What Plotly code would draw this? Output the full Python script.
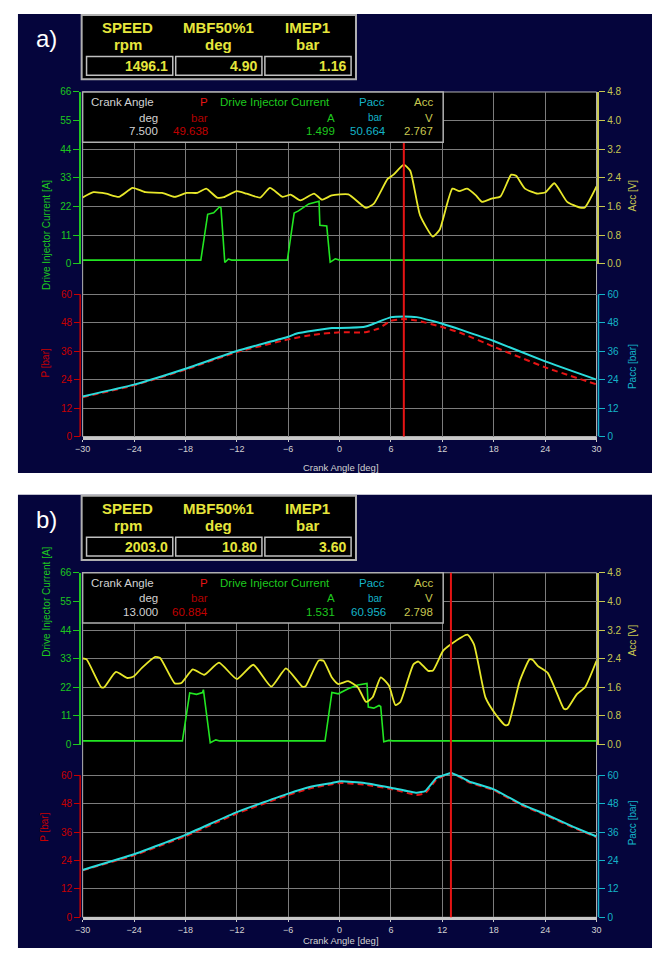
import plotly.graph_objects as go

# page is 660x956; the browser body keeps its default 8px margin
PAGE_W, PAGE_H = 660, 956
BODY_MARGIN = 8
W, H = PAGE_W - 2 * BODY_MARGIN, PAGE_H - 2 * BODY_MARGIN
OFFSET_B = 487

# ---------------- data: panel a ----------------
a_acc_deg = [-30.0, -28.74, -27.25, -25.76, -24.16, -22.67, -20.72, -19.24, -17.86, -16.6, -15.57,
             -14.31, -13.51, -12.02, -10.87, -9.27, -8.13, -6.64, -5.72, -4.58, -2.98, -2.06, -0.92,
             1.03, 3.09, 4.01, 5.61, 6.30, 7.5, 8.25, 9.39, 10.88, 11.68, 13.17, 13.97, 14.89, 15.92,
             16.61, 17.75, 18.78, 20.04, 20.61, 21.64, 23.13, 24.05, 25.08, 26.57, 28.06, 28.63, 30.0]
a_acc_v = [1.85, 2.0, 1.96, 1.87, 2.12, 2.0, 1.98, 1.87, 1.98, 1.98, 2.1,
           1.85, 1.86, 2.03, 1.96, 1.85, 2.12, 1.87, 1.93, 1.77, 1.96, 1.79, 1.91,
           1.94, 1.56, 1.68, 2.37, 2.49, 2.77, 2.6, 1.36, 0.76, 0.95, 2.1, 2.03, 2.1, 1.91,
           1.73, 1.82, 1.88, 2.49, 2.46, 2.1, 1.96, 2.0, 2.25, 1.73, 1.57, 1.57, 2.16]
a_cur_deg = [-30.0, -16.2, -15.4, -14.7, -14.0, -13.85, -13.4, -13.0, -12.6, -6.1, -5.3, -4.8,
             -3.6, -2.4, -2.3, -1.5, -1.1, -0.8, -0.5, 0.0, 30.0]
a_cur_a = [1.4, 1.4, 19.0, 19.6, 21.9, 21.5, 0.5, 1.8, 1.4, 1.4, 19.5, 20.3,
           23.0, 24.0, 14.8, 14.5, 0.6, 1.4, 1.9, 1.4, 1.4]
a_pacc_deg = [-30, -24, -18, -12, -6, -5, -0.9, 0, 2.9, 4.0, 6.0, 7.5, 9.0, 12.0, 14.3, 18.0, 24.0, 30.0]
a_pacc_bar = [16.9, 21.9, 28.6, 36.1, 42.1, 43.5, 45.8, 45.8, 46.3, 47.6, 50.4, 50.7, 50.4, 47.6,
              44.9, 40.3, 31.7, 24.0]
a_p_deg = [-30, -24, -18, -12, -6, -3, 0, 3, 4.5, 6, 7.5, 9, 12, 14.3, 18, 24, 30]
a_p_bar = [16.6, 21.6, 28.2, 35.6, 41.0, 43.0, 44.0, 44.0, 45.5, 48.8, 49.6, 49.0, 46.2, 43.5,
           37.9, 29.2, 22.0]
a_cursor = 7.5
a_info_values = ["1496.1", "4.90", "1.16"]
a_legend_values = ["7.500", "49.638", "1.499", "50.664", "2.767"]

# ---------------- data: panel b ----------------
b_acc_deg = [-30.0, -29.54, -27.82, -27.48, -26.11, -24.77, -24.05, -23.05, -21.53, -20.95, -19.24,
             -18.47, -17.14, -15.8, -14.08, -11.99, -10.08, -7.98, -6.26, -4.35, -3.97, -2.44, -1.87,
             -0.92, -0.15, 1.0, 2.14, 3.09, 3.86, 4.81, 5.76, 6.53, 7.10, 8.62, 9.2, 10.34, 10.91,
             12.06, 13.0, 14.92, 15.69, 17.03, 18.17, 19.32, 19.70, 21.04, 22.18, 22.56, 23.13,
             24.28, 25.42, 26.19, 26.57, 27.71, 28.66, 30.0]
b_acc_v = [2.41, 2.38, 1.6, 1.6, 2.03, 1.86, 1.9, 2.15, 2.45, 2.42, 1.71,
           1.72, 2.1, 1.95, 2.29, 1.83, 2.23, 1.62, 2.13, 1.62, 1.63, 2.35, 2.34,
           1.88, 1.69, 1.77, 1.6, 1.19, 1.32, 1.88, 1.65, 1.1, 1.19, 2.24, 2.32, 2.06, 2.07,
           2.61, 2.8, 3.07, 2.8, 1.32, 0.86, 0.54, 0.56, 1.78, 2.38, 2.36, 2.2,
           2.01, 1.41, 1.0, 1.0, 1.41, 1.6, 2.34]
b_cur_deg = [-30.0, -18.35, -17.5, -16.7, -16.0, -15.9, -15.1, -14.45, -14.0, -1.7, -0.9, -0.15,
             1.0, 2.13, 3.2, 3.35, 4.0, 4.6, 4.8, 5.16, 5.75, 6.2, 30.0]
b_cur_a = [1.4, 1.4, 19.8, 19.3, 20.0, 21.1, 0.7, 1.8, 1.4, 1.4, 20.0, 19.5,
           21.4, 22.9, 23.5, 14.4, 14.0, 15.0, 14.6, 1.1, 1.6, 1.4, 1.4]
b_pacc_deg = [-30, -24, -18, -12, -6, -3.5, -0.9, 0.2, 2.9, 6, 9, 10, 11.3, 12.25, 13, 14, 15.1, 18,
              21.2, 24.1, 27.3, 30]
b_pacc_bar = [20.0, 26.6, 34.8, 44.4, 52.2, 55.0, 56.7, 57.4, 56.7, 54.7, 52.6, 53.3, 58.8, 60.1,
              60.96, 59.5, 57.4, 54.0, 47.8, 43.4, 38.2, 34.1]
b_p_deg = [-30, -24, -18, -12, -6, -3.5, -0.9, 0.2, 2.9, 6, 9, 10, 11.3, 12.25, 13, 14, 15.1, 18,
           21.2, 24.1, 27.3, 30]
b_p_bar = [19.8, 26.2, 34.2, 43.8, 51.6, 54.4, 56.2, 56.7, 56.0, 54.2, 51.6, 52.4, 58.0, 59.8,
           60.88, 59.2, 57.0, 53.6, 47.4, 43.0, 37.8, 33.8]
b_cursor = 13.0
b_info_values = ["2003.0", "10.80", "3.60"]
b_legend_values = ["13.000", "60.884", "1.531", "60.956", "2.798"]

# ---------------- ticks / labels ----------------
x_ticks = [-30, -24, -18, -12, -6, 0, 6, 12, 18, 24, 30]
cur_ticks = [0, 11, 22, 33, 44, 55, 66]
acc_ticks = [0.0, 0.8, 1.6, 2.4, 3.2, 4.0, 4.8]
p_ticks = [0, 12, 24, 36, 48, 60]
info_titles = ["SPEED", "MBF50%1", "IMEP1"]
info_units = ["rpm", "deg", "bar"]
legend_names = ["Crank Angle", "P", "Drive Injector Current", "Pacc", "Acc"]
legend_units = ["deg", "bar", "A", "bar", "V"]
panel_labels = ["a)", "b)"]

# ---------------- styling ----------------
FONT = "Liberation Sans, Arial, sans-serif"
NAVY = "#05053c"
GRID = "#7c7c7c"
FRAME = "#b4b4b4"
GREEN_LINE = "#22e622"
GREEN_TXT = "#1ec81e"
YEL_LINE = "#e8e82a"
YEL_TXT = "#c8c850"
CYAN_LINE = "#2adcdc"
CYAN_TXT = "#14b4c8"
RED_LINE = "#e61414"
RED_TXT = "#c80000"
GRAY_TXT = "#d2d2d2"
INFO_YEL = "#e6e63c"


def px(x):
    """page pixel x -> paper fraction"""
    return (x - BODY_MARGIN) / W


def py(y):
    """page pixel y -> paper fraction"""
    return 1 - (y - BODY_MARGIN) / H


# plot geometry (page pixels, panel a)
PL, PR = 76, 600.5
TOP, MID, BOT = 87, 261, 436
P60 = 292
P_TOP = 60 * (BOT - MID) / (BOT - P60)

fig = go.Figure()
shapes = []
annotations = []
layout = {}

panels = [
    dict(off=0, x="x", ys=["y", "y2", "y3", "y4"],
         acc=(a_acc_deg, a_acc_v), cur=(a_cur_deg, a_cur_a), pacc=(a_pacc_deg, a_pacc_bar),
         p=(a_p_deg, a_p_bar), cursor=a_cursor, info=a_info_values, leg=a_legend_values,
         label=panel_labels[0]),
    dict(off=OFFSET_B, x="x2", ys=["y5", "y6", "y7", "y8"],
         acc=(b_acc_deg, b_acc_v), cur=(b_cur_deg, b_cur_a), pacc=(b_pacc_deg, b_pacc_bar),
         p=(b_p_deg, b_p_bar), cursor=b_cursor, info=b_info_values, leg=b_legend_values,
         label=panel_labels[1]),
]


def key(ref):
    return ref[0] + "axis" + ref[1:]


for pn in panels:
    o = pn["off"]
    xr = pn["x"]
    ycur, yacc, yp, ypacc = pn["ys"]

    # background panels
    shapes.append(dict(type="rect", xref="paper", yref="paper", x0=px(10), x1=px(660),
                       y0=py(473 + o if o == 0 else 960), y1=py(8 + o), fillcolor=NAVY,
                       line=dict(width=0), layer="below"))
    shapes.append(dict(type="rect", xref="paper", yref="paper", x0=px(PL), x1=px(PR),
                       y0=py(BOT + o), y1=py(TOP + o), fillcolor="black",
                       line=dict(color=FRAME, width=1), layer="below"))

    # info box
    shapes.append(dict(type="rect", xref="paper", yref="paper", x0=px(75), x1=px(355),
                       y0=py(74 + o), y1=py(9 + o), fillcolor="black",
                       line=dict(color="#b0b0b0", width=2), layer="below"))
    box_x = [(80, 168), (171, 259), (262, 350)]
    centers = [122, 215, 306]
    for i in range(3):
        shapes.append(dict(type="rect", xref="paper", yref="paper", x0=px(box_x[i][0]),
                           x1=px(box_x[i][1]), y0=py(70 + o), y1=py(51 + o),
                           fillcolor="black", line=dict(color="#c0c0c0", width=1.5),
                           layer="below"))
        annotations.append(dict(x=px(centers[i]), y=py(22 + o), xref="paper", yref="paper",
                                text="<b>%s</b>" % info_titles[i], showarrow=False,
                                font=dict(family=FONT, size=15, color=INFO_YEL),
                                xanchor="center", yanchor="middle"))
        annotations.append(dict(x=px(centers[i]), y=py(39 + o), xref="paper", yref="paper",
                                text="<b>%s</b>" % info_units[i], showarrow=False,
                                font=dict(family=FONT, size=15, color=INFO_YEL),
                                xanchor="center", yanchor="middle"))
        annotations.append(dict(x=px(box_x[i][1] - 3), y=py(60.5 + o), xref="paper", yref="paper",
                                text="<b>%s</b>" % pn["info"][i], showarrow=False,
                                font=dict(family=FONT, size=14, color=INFO_YEL),
                                xanchor="right", yanchor="middle"))

    annotations.append(dict(x=px(26), y=py(33 + o), xref="paper", yref="paper",
                            text=pn["label"], showarrow=False,
                            font=dict(family=FONT, size=24, color="white"),
                            xanchor="left", yanchor="middle"))

    # traces
    fig.add_trace(go.Scatter(x=pn["cur"][0], y=pn["cur"][1], xaxis=xr, yaxis=ycur, mode="lines",
                             line=dict(color=GREEN_LINE, width=1.6), showlegend=False,
                             hoverinfo="skip"))
    fig.add_trace(go.Scatter(x=pn["acc"][0], y=pn["acc"][1], xaxis=xr, yaxis=yacc, mode="lines",
                             line=dict(color=YEL_LINE, width=1.8, shape="spline", smoothing=0.5),
                             showlegend=False, hoverinfo="skip"))
    fig.add_trace(go.Scatter(x=pn["pacc"][0], y=pn["pacc"][1], xaxis=xr, yaxis=ypacc, mode="lines",
                             line=dict(color=CYAN_LINE, width=2, shape="spline", smoothing=0.4),
                             showlegend=False, hoverinfo="skip"))
    fig.add_trace(go.Scatter(x=pn["p"][0], y=pn["p"][1], xaxis=xr, yaxis=yp, mode="lines",
                             line=dict(color=RED_LINE, width=2, dash="6px,4px", shape="spline",
                                       smoothing=0.4),
                             showlegend=False, hoverinfo="skip"))

    # cursor line
    shapes.append(dict(type="line", xref=xr, yref="paper", x0=pn["cursor"], x1=pn["cursor"],
                       y0=py(BOT + o), y1=py(TOP + o), line=dict(color=RED_LINE, width=2),
                       layer="above"))
    # readout box
    shapes.append(dict(type="rect", xref="paper", yref="paper", x0=px(PL), x1=px(444),
                       y0=py(138 + o), y1=py(TOP + o), fillcolor="black",
                       line=dict(color="#b0b0b0", width=1.5), layer="above"))

    # axis lines drawn only over 0..60 for P and Pacc
    shapes.append(dict(type="line", xref="paper", yref=yp, x0=px(73.5), x1=px(73.5),
                       y0=0, y1=60, line=dict(color=RED_TXT, width=1.5)))
    shapes.append(dict(type="line", xref="paper", yref=ypacc, x0=px(602.5), x1=px(602.5),
                       y0=0, y1=60, line=dict(color=CYAN_TXT, width=1.5)))

    # readout texts
    lf = 11.5
    row1, row2, row3 = 97 + o, 113 + o, 127 + o
    cols = [
        (83, "left", GRAY_TXT, 155, GRAY_TXT, 155, GRAY_TXT),
        (206, "right", RED_LINE, 206, "#b00000", 206, "#c00000"),
        (214, "left", GREEN_TXT, 336, GREEN_TXT, 336, GREEN_TXT),
        (387, "right", CYAN_TXT, 385, CYAN_TXT, 388, CYAN_TXT),
        (436, "right", YEL_TXT, 436, YEL_TXT, 436, YEL_TXT),
    ]
    for i, c in enumerate(cols):
        annotations.append(dict(x=px(c[0]), y=py(row1), xref="paper", yref="paper",
                                text=legend_names[i], showarrow=False, xanchor=c[1],
                                yanchor="middle", font=dict(family=FONT, size=lf, color=c[2])))
        annotations.append(dict(x=px(c[3]), y=py(row2), xref="paper", yref="paper",
                                text=legend_units[i], showarrow=False, xanchor="right",
                                yanchor="middle",
                                font=dict(family=FONT, size=(10 if i == 3 else lf), color=c[4])))
        annotations.append(dict(x=px(c[5]), y=py(row3), xref="paper", yref="paper",
                                text=pn["leg"][i], showarrow=False, xanchor="right",
                                yanchor="middle", font=dict(family=FONT, size=lf, color=c[6])))

    # axis titles
    annotations.append(dict(x=px(32), y=py((TOP + MID) / 2 + o), xref="paper", yref="paper",
                            text="Drive Injector Current [A]", textangle=-90, showarrow=False,
                            font=dict(family=FONT, size=10, color=GREEN_TXT)))
    annotations.append(dict(x=px(30), y=py(362 + o), xref="paper", yref="paper",
                            text="P [bar]", textangle=-90, showarrow=False,
                            font=dict(family=FONT, size=10, color=RED_TXT)))
    annotations.append(dict(x=px(645), y=py((TOP + MID) / 2 + o), xref="paper", yref="paper",
                            text="Acc [V]", textangle=-90, showarrow=False,
                            font=dict(family=FONT, size=10, color=YEL_TXT)))
    annotations.append(dict(x=px(645), y=py(365 + o), xref="paper", yref="paper",
                            text="Pacc [bar]", textangle=-90, showarrow=False,
                            font=dict(family=FONT, size=10, color=CYAN_TXT)))
    annotations.append(dict(x=px(340), y=py(467 + o), xref="paper", yref="paper",
                            text="Crank Angle [deg]", showarrow=False,
                            font=dict(family=FONT, size=9.5, color=GRAY_TXT)))

    # axes
    layout[key(xr)] = dict(domain=[px(PL), px(PR)], anchor=yp, range=[-30, 30],
                           tickvals=x_ticks, showgrid=True, gridcolor=GRID, gridwidth=1,
                           zeroline=False, showline=True, linecolor="#c8c8c8", linewidth=3,
                           ticks="outside", ticklen=2, tickcolor="#c8c8c8",
                           tickfont=dict(family=FONT, size=9, color=GRAY_TXT), fixedrange=True)
    layout[key(ycur)] = dict(domain=[py(MID + o), py(TOP + o)], anchor="free", position=px(73.5),
                             side="left", range=[0, 66], tickvals=cur_ticks, showgrid=True,
                             gridcolor=GRID, gridwidth=1, zeroline=False, showline=True,
                             linecolor=GREEN_TXT, linewidth=1.5, ticks="outside", ticklen=6,
                             tickcolor=GREEN_TXT,
                             tickfont=dict(family=FONT, size=10, color=GREEN_TXT))
    layout[key(yacc)] = dict(overlaying=ycur, anchor="free", position=px(602.5), side="right",
                             range=[0, 4.8], tickvals=acc_ticks, tickformat=".1f",
                             showgrid=False, zeroline=False, showline=True, linecolor=YEL_TXT,
                             linewidth=1.5, ticks="outside", ticklen=6, tickcolor=YEL_TXT,
                             tickfont=dict(family=FONT, size=10, color=YEL_TXT))
    layout[key(yp)] = dict(domain=[py(BOT + o), py(MID + o)], anchor="free", position=px(73.5),
                           side="left", range=[0, P_TOP], tickvals=p_ticks, showgrid=True,
                           gridcolor=GRID, gridwidth=1, zeroline=False, showline=False,
                           ticks="outside", ticklen=6, tickcolor=RED_TXT,
                           tickfont=dict(family=FONT, size=10, color=RED_TXT))
    layout[key(ypacc)] = dict(overlaying=yp, anchor="free", position=px(602.5), side="right",
                              range=[0, P_TOP], tickvals=p_ticks, showgrid=False, zeroline=False,
                              showline=False, ticks="outside", ticklen=6, tickcolor=CYAN_TXT,
                              tickfont=dict(family=FONT, size=10, color=CYAN_TXT))

fig.update_layout(**layout)
fig.update_layout(width=W, height=H, margin=dict(l=0, r=0, t=0, b=0, pad=0),
                  paper_bgcolor="white", plot_bgcolor="rgba(0,0,0,0)",
                  shapes=shapes, annotations=annotations, showlegend=False,
                  font=dict(family=FONT))
fig.write_html("out.html", config={"displayModeBar": False})
